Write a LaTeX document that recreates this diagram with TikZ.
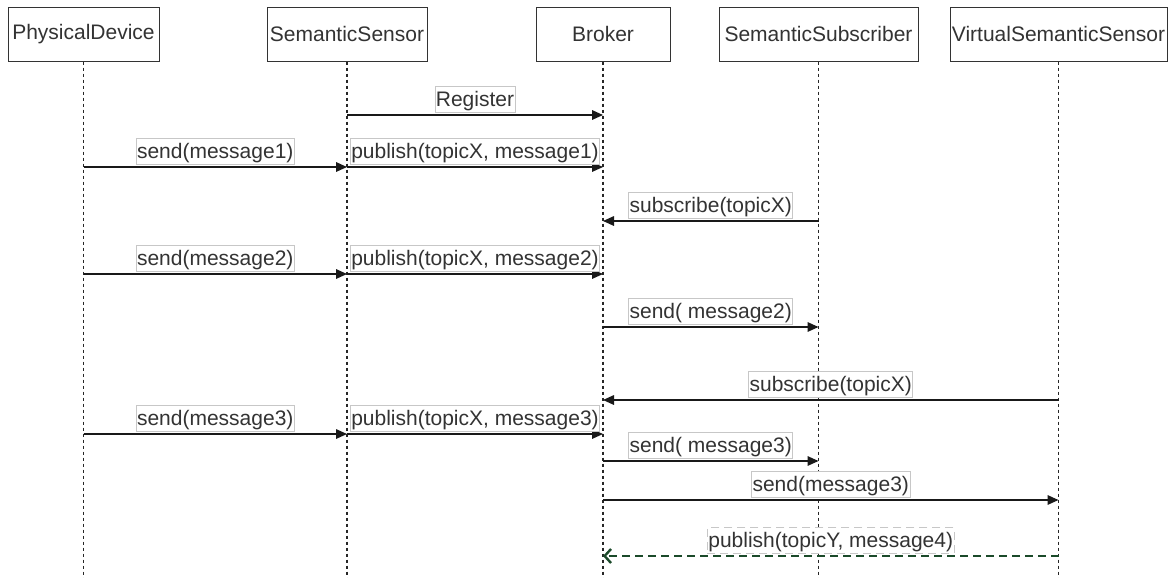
\documentclass[tikz,border=0pt]{standalone}
\usepackage{fontspec}
\setmainfont{Liberation Sans}
\usetikzlibrary{arrows.meta}
\definecolor{dgreen}{HTML}{1B4A2A}
\definecolor{inkc}{HTML}{333333}
\begin{document}
\begin{tikzpicture}[x=0.5pt,y=-0.5pt,
  actor/.style={draw=inkc, fill=white, line width=0.5pt, minimum height=27pt, inner sep=0pt,
    font=\fontsize{10.5}{12}\selectfont, text=inkc},
  lifeline/.style={draw=black!85, line width=0.55pt, dash pattern=on 1.5pt off 1.5pt},
  msg/.style={draw=black!90, line width=0.65pt, -{Triangle[length=5.5pt,width=4.8pt]}},
  reply/.style={draw=dgreen, line width=1.2pt, dash pattern=on 4pt off 2.5pt,
    -{Straight Barb[length=3.2pt,width=7pt]}},
  lbl/.style={fill=white, draw=black!22, line width=0.4pt, inner xsep=0.5pt, inner ysep=0.5pt,
    text height=9.5pt, text depth=2.2pt, font=\fontsize{10.5}{12}\selectfont, text=inkc,
    anchor=south, yshift=1.2pt}
]
\fill[white] (0,0) rectangle (1168,578);
\useasboundingbox (0,0) rectangle (1168,578);

% participants
\node[actor, minimum width=75.5pt] (pd)  at (83.5,34)   {PhysicalDevice};
\node[actor, minimum width=80pt]   (ss)  at (347,34)    {SemanticSensor};
\node[actor, minimum width=67pt]   (br)  at (603,34)    {Broker};
\node[actor, minimum width=99.5pt] (sub) at (818.5,34)  {SemanticSubscriber};
\node[actor, minimum width=108.5pt](vss) at (1058.5,34) {VirtualSemanticSensor};

% points on the lifelines
\foreach \n in {pd,ss,br,sub,vss}{
  \coordinate (\n end) at (\n.south |- 0,578);
  \foreach \y in {115,167,221,274,327,400,434,461,500,556}{
    \coordinate (\n\y) at (\n.south |- 0,\y);
  }
}

% lifelines
\foreach \n in {pd,ss,br,sub,vss}{
  \draw[lifeline] (\n.south) -- (\n end);
}

% messages
\draw[msg] (ss115) -- node[lbl]{Register} (br115);
\draw[msg] (pd167) -- node[lbl]{send(message1)} (ss167);
\draw[msg] (ss167) -- node[lbl]{publish(topicX, message1)} (br167);
\draw[msg] (sub221) -- node[lbl]{subscribe(topicX)} (br221);
\draw[msg] (pd274) -- node[lbl]{send(message2)} (ss274);
\draw[msg] (ss274) -- node[lbl]{publish(topicX, message2)} (br274);
\draw[msg] (br327) -- node[lbl]{send( message2)} (sub327);
\draw[msg] (vss400) -- node[lbl]{subscribe(topicX)} (br400);
\draw[msg] (pd434) -- node[lbl]{send(message3)} (ss434);
\draw[msg] (ss434) -- node[lbl]{publish(topicX, message3)} (br434);
\draw[msg] (br461) -- node[lbl]{send( message3)} (sub461);
\draw[msg] (br500) -- node[lbl]{send(message3)} (vss500);
\draw[reply] (vss556) -- node[lbl]{publish(topicY, message4)} (br556);
\end{tikzpicture}
\end{document}
